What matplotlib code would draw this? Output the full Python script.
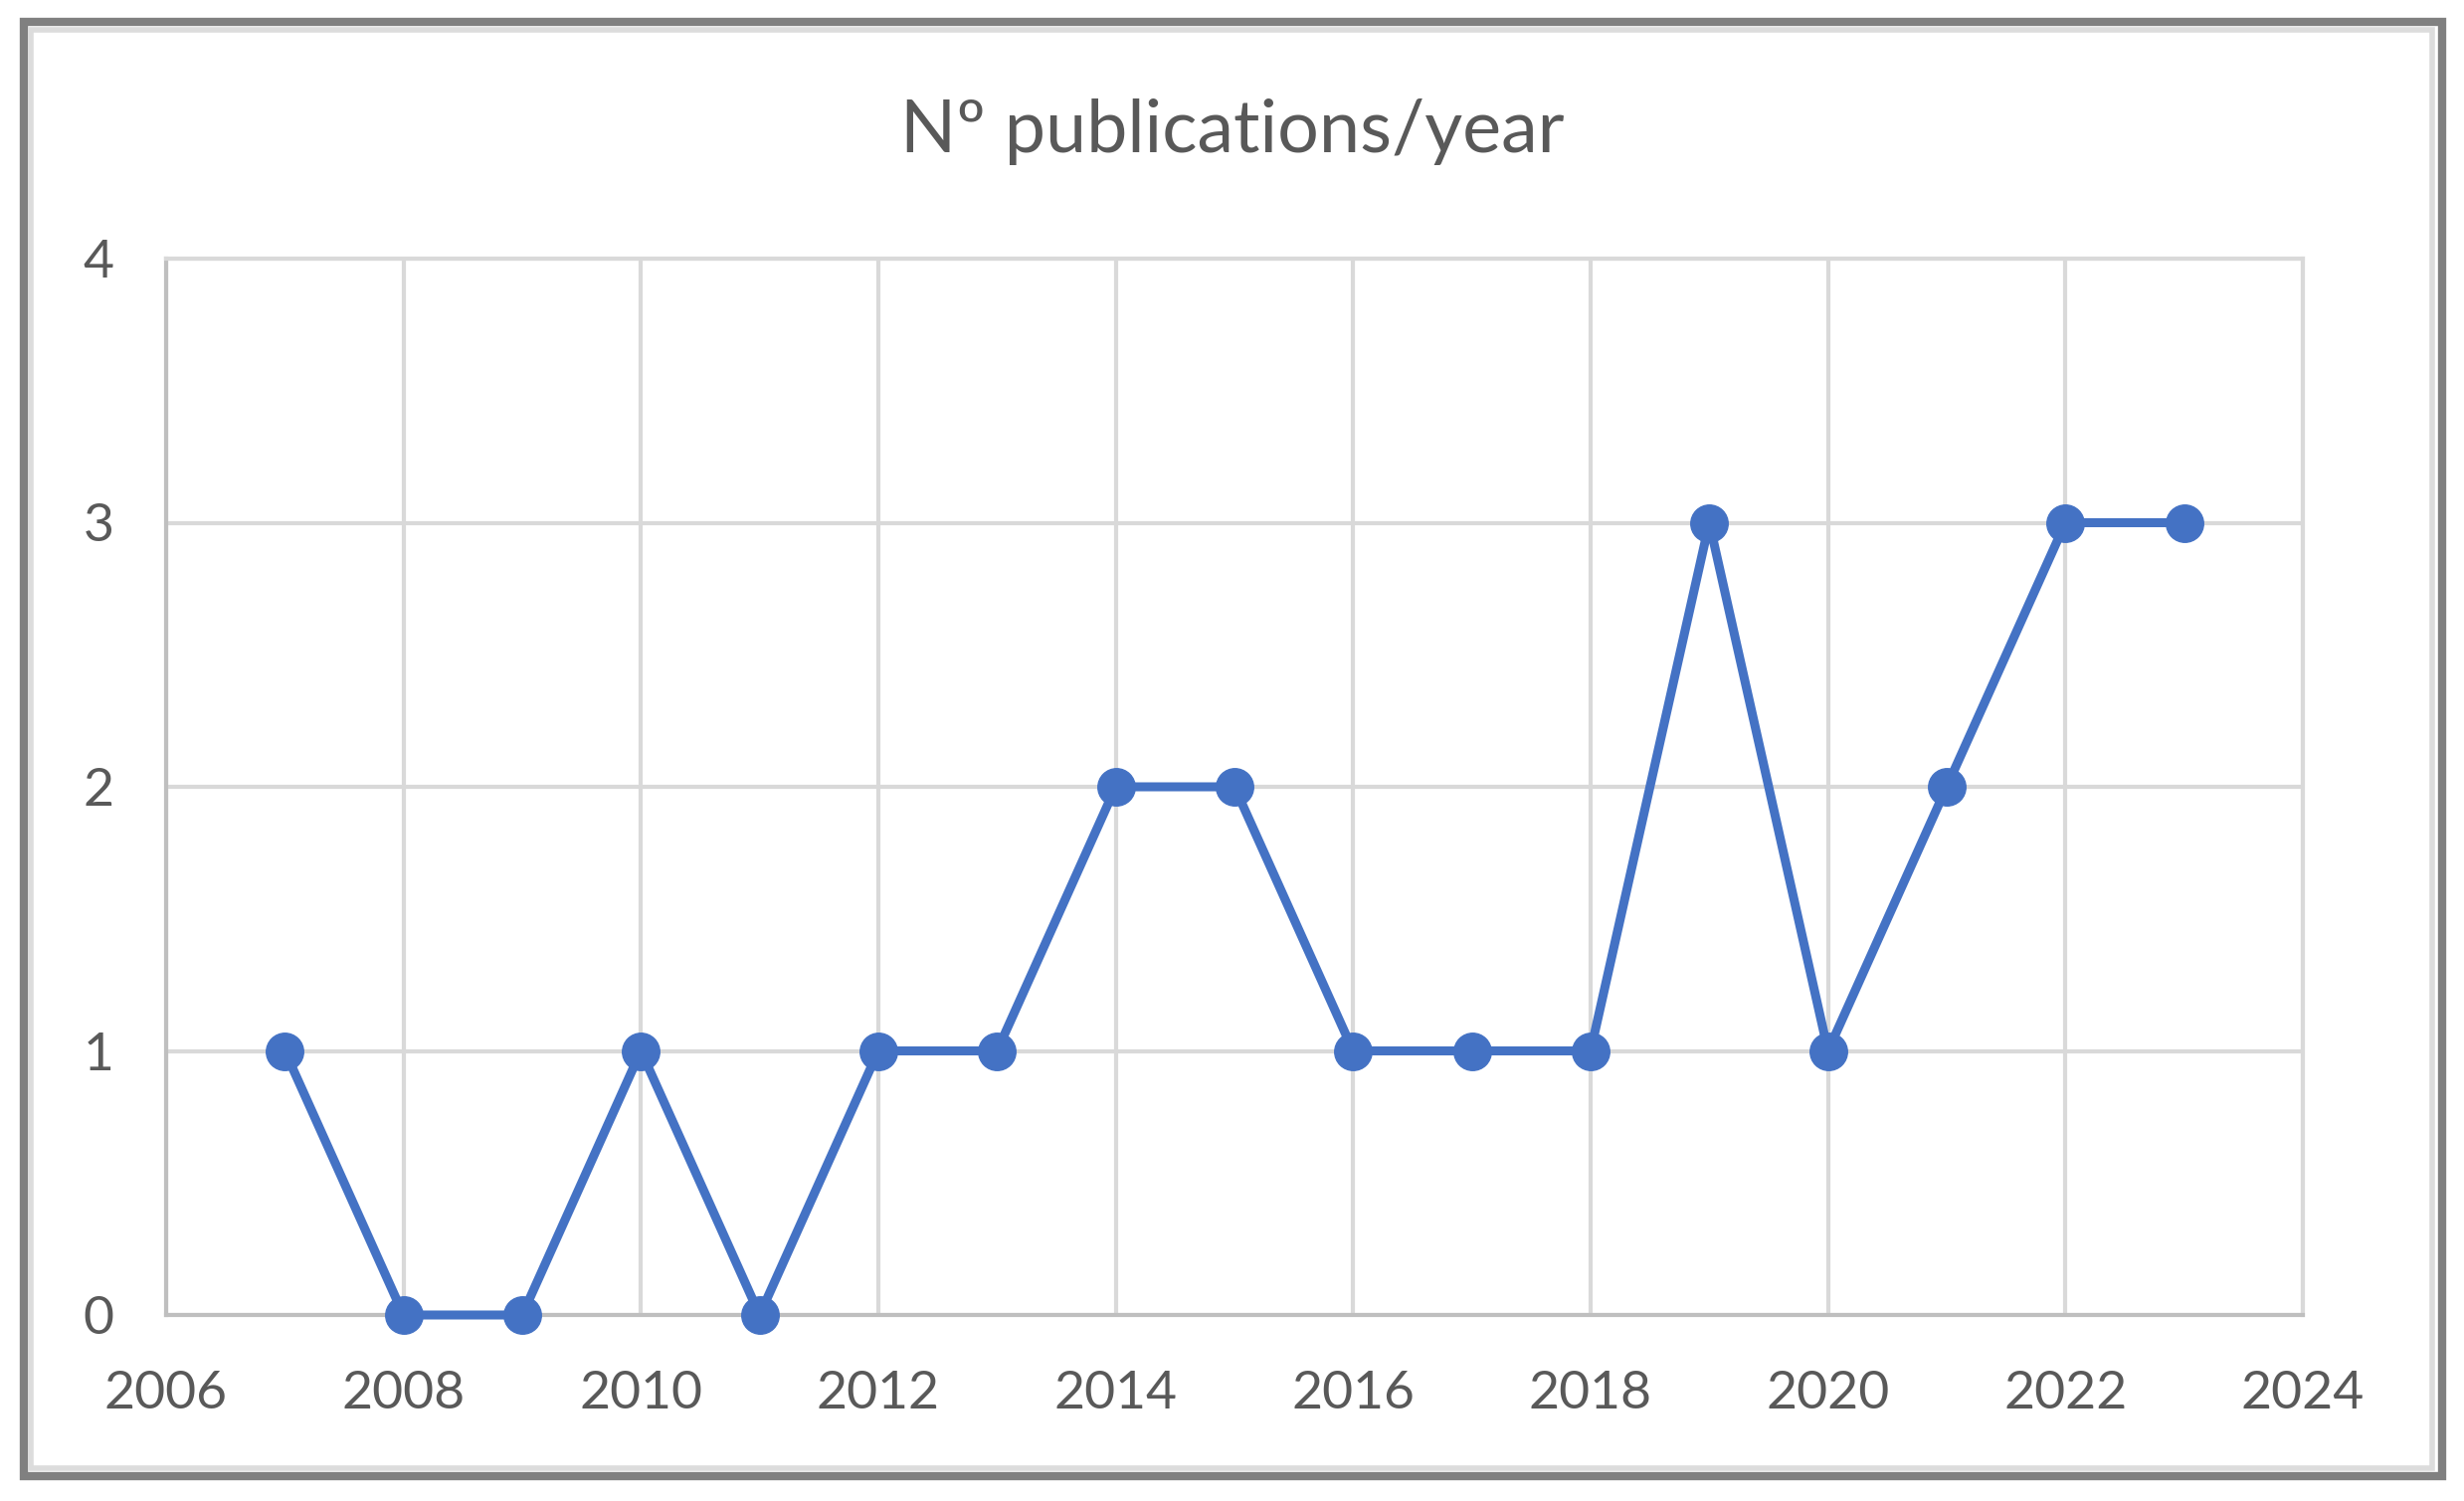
import matplotlib.pyplot as plt
from matplotlib.patches import Rectangle

years = [2007, 2008, 2009, 2010, 2011, 2012, 2013, 2014, 2015,
         2016, 2017, 2018, 2019, 2020, 2021, 2022, 2023]
publications = [1, 0, 0, 1, 0, 1, 1, 2, 2, 1, 1, 1, 3, 1, 2, 3, 3]
x_ticks = list(range(2006, 2025, 2))
y_ticks = [0, 1, 2, 3, 4]

W, H = 2477, 1509
text_color = "#595959"
grid_color = "#d9d9d9"
line_color = "#4472c4"

plt.rcParams['font.family'] = ['Lato', 'DejaVu Sans']

fig = plt.figure(figsize=(W / 100, H / 100), dpi=100)
ax = fig.add_axes([167 / W, 1 - 1322 / H, (2315 - 167) / W, (1322 - 260) / H])

ax.plot(years, publications, color=line_color, linewidth=6.5,
        marker='o', markersize=27, zorder=3, clip_on=False)

ax.set_xlim(2006, 2024)
ax.set_ylim(0, 4)
ax.set_xticks(x_ticks)
ax.set_yticks(y_ticks)
ax.grid(True, color=grid_color, linewidth=3)
ax.set_axisbelow(True)
ax.tick_params(length=0, labelsize=38.5, labelcolor=text_color)
ax.tick_params(axis='x', pad=40)
ax.tick_params(axis='y', pad=38)
for side in ['top', 'right']:
    ax.spines[side].set_color(grid_color)
    ax.spines[side].set_linewidth(3)
for side in ['left', 'bottom']:
    ax.spines[side].set_color("#bfbfbf")
    ax.spines[side].set_linewidth(3)

fig.text(0.5, 1 - 133 / H, "Nº publications/year", ha='center', va='center',
         fontsize=53, color=text_color)

# Frame around the chart (outer dark border with light inner line)
fig.add_artist(Rectangle((24 / W, 1 - 1484 / H), (2455 - 24) / W, (1484 - 22) / H,
                         transform=fig.transFigure, fill=False,
                         edgecolor="#808080", linewidth=6))
fig.add_artist(Rectangle((31 / W, 1 - 1476 / H), (2445 - 31) / W, (1476 - 30) / H,
                         transform=fig.transFigure, fill=False,
                         edgecolor="#dcdcdc", linewidth=4))

fig.savefig("out.png", dpi=100)
